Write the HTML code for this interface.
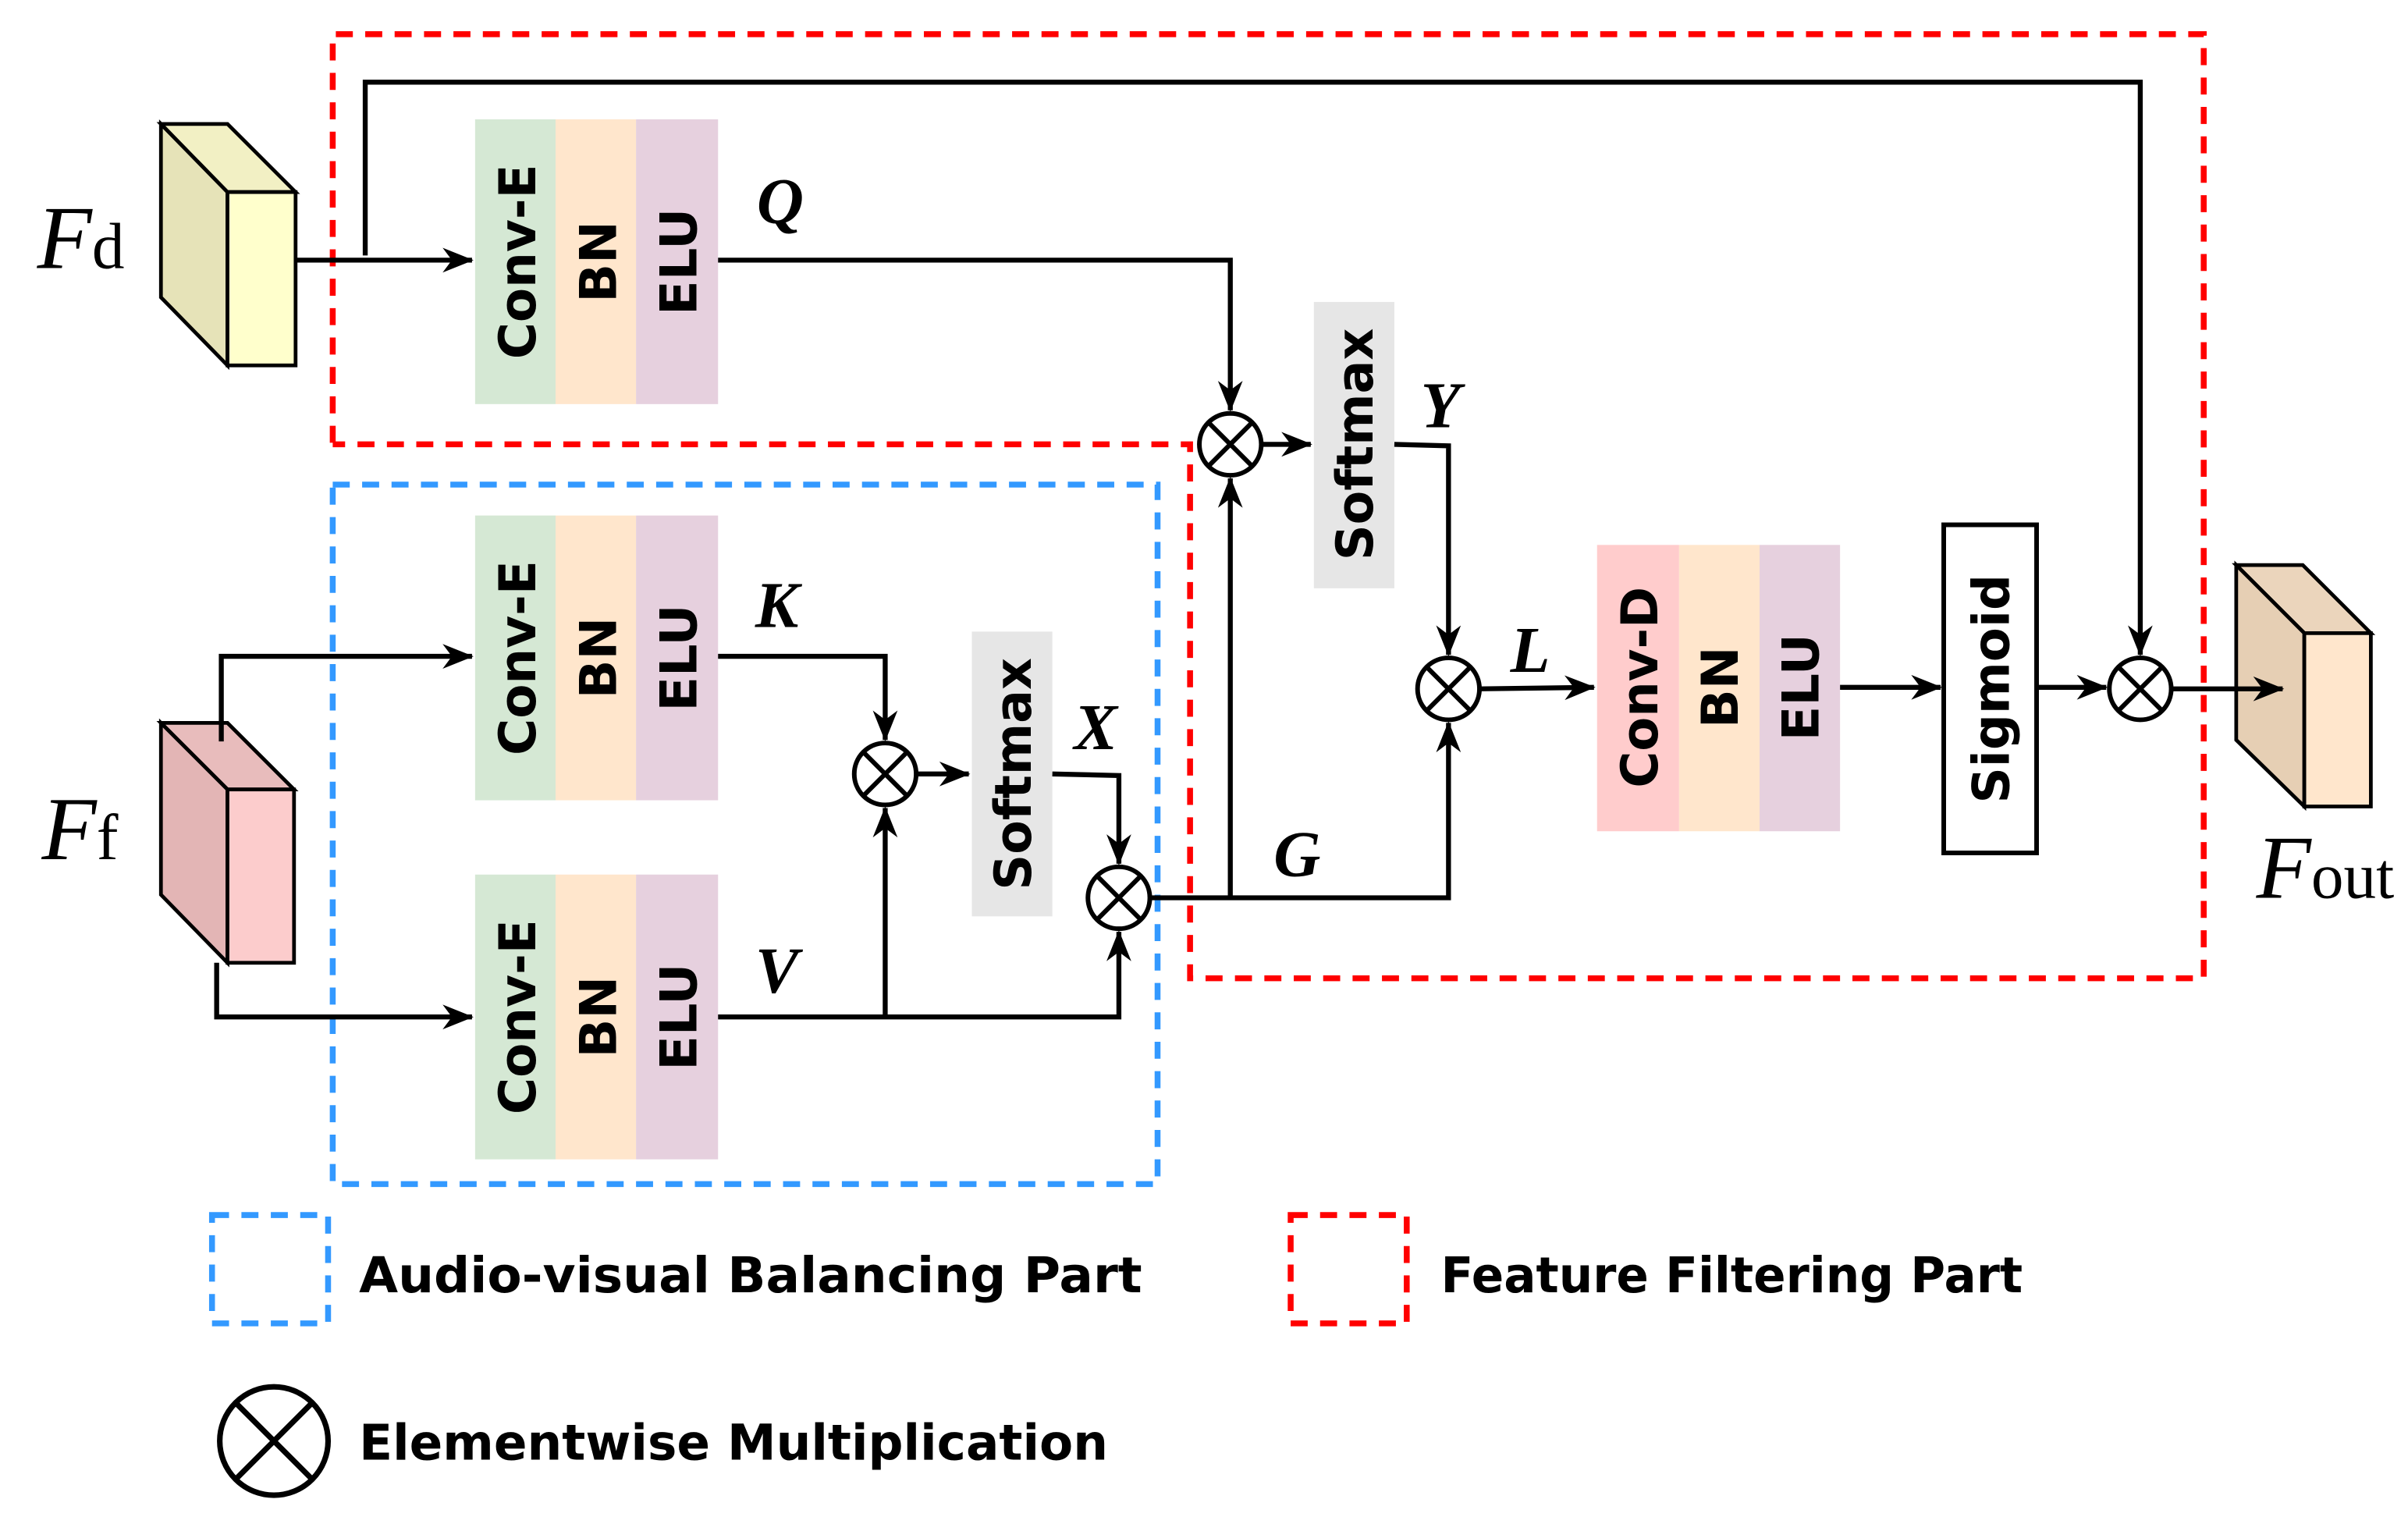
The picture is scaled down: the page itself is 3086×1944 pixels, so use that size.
<!DOCTYPE html>
<html><head><meta charset="utf-8"><style>html,body{margin:0;padding:0;background:#fff}svg{display:block}</style></head>
<body>
<svg width="3086" height="1944" viewBox="0 0 1556 980" xmlns="http://www.w3.org/2000/svg">
<defs>
<marker id="a" markerUnits="userSpaceOnUse" markerWidth="22" markerHeight="18" refX="19" refY="8" orient="auto">
<path d="M0,0 L20,8 L0,16 L6,8 z" fill="#000"/>
</marker>
</defs>
<g fill="none" stroke-width="3.8" stroke-dasharray="11,8">
<path d="M215,286 L215,22 L1424,22 L1424,632 L769,632 L769,287 L215,287" stroke="#ff0000"/>
<rect x="215" y="313" width="533" height="452" stroke="#3399ff"/>
<rect x="137" y="785" width="75" height="70" stroke="#3399ff"/>
<rect x="834" y="785" width="75" height="70" stroke="#ff0000"/>
</g>
<g stroke="#000" stroke-width="2.4">
<polygon points="104,80 147,124 147,236 104,192" fill="#e6e3b8"/>
<polygon points="104,80 147,80 191,124 147,124" fill="#f2f0c4"/>
<rect x="147" y="124" width="44" height="112" fill="#ffffcc"/>
<polygon points="104,467 147,467 190,510 147,510" fill="#e8bcbc"/>
<polygon points="104,467 147,510 147,622 104,578" fill="#e3b5b5"/>
<rect x="147" y="510" width="43" height="112" fill="#fccccc"/>
<polygon points="1445,365 1488,365 1532,409 1489,409" fill="#ebd5bc"/>
<polygon points="1445,365 1489,409 1489,521 1445,478" fill="#e6cfb4"/>
<rect x="1489" y="409" width="43" height="112" fill="#ffe6cc"/>
</g>
<g>
<rect x="307" y="77" width="52" height="184" fill="#d5e8d4"/><rect x="359" y="77" width="52" height="184" fill="#ffe6cc"/><rect x="411" y="77" width="53" height="184" fill="#e6d0de"/>
<rect x="307" y="333" width="52" height="184" fill="#d5e8d4"/><rect x="359" y="333" width="52" height="184" fill="#ffe6cc"/><rect x="411" y="333" width="53" height="184" fill="#e6d0de"/>
<rect x="307" y="565" width="52" height="184" fill="#d5e8d4"/><rect x="359" y="565" width="52" height="184" fill="#ffe6cc"/><rect x="411" y="565" width="53" height="184" fill="#e6d0de"/>
<rect x="1032" y="352" width="53" height="185" fill="#ffcccc"/><rect x="1085" y="352" width="52" height="185" fill="#ffe6cc"/><rect x="1137" y="352" width="52" height="185" fill="#e6d0de"/>
<rect x="628" y="408" width="52" height="184" fill="#e6e6e6"/>
<rect x="849" y="195" width="52" height="185" fill="#e6e6e6"/>
<rect x="1256" y="339" width="60" height="212" fill="#fff" stroke="#000" stroke-width="3"/>
</g>
<g font-family="'DejaVu Sans','Liberation Sans',sans-serif" font-weight="bold" font-size="33" fill="#000" text-anchor="middle">
<g transform="translate(346,169) rotate(-90)"><text x="0" y="0" textLength="126" lengthAdjust="spacingAndGlyphs">Conv-E</text></g>
<g transform="translate(398,169) rotate(-90)"><text x="0" y="0">BN</text></g>
<g transform="translate(450,169) rotate(-90)"><text x="0" y="0">ELU</text></g>
<g transform="translate(346,425) rotate(-90)"><text x="0" y="0" textLength="126" lengthAdjust="spacingAndGlyphs">Conv-E</text></g>
<g transform="translate(398,425) rotate(-90)"><text x="0" y="0">BN</text></g>
<g transform="translate(450,425) rotate(-90)"><text x="0" y="0">ELU</text></g>
<g transform="translate(346,657) rotate(-90)"><text x="0" y="0" textLength="126" lengthAdjust="spacingAndGlyphs">Conv-E</text></g>
<g transform="translate(398,657) rotate(-90)"><text x="0" y="0">BN</text></g>
<g transform="translate(450,657) rotate(-90)"><text x="0" y="0">ELU</text></g>
<g transform="translate(1071,444) rotate(-90)"><text x="0" y="0" textLength="130" lengthAdjust="spacingAndGlyphs">Conv-D</text></g>
<g transform="translate(1123,444) rotate(-90)"><text x="0" y="0">BN</text></g>
<g transform="translate(1175,444) rotate(-90)"><text x="0" y="0">ELU</text></g>
<g transform="translate(666,500) rotate(-90)"><text x="0" y="0" textLength="150" lengthAdjust="spacingAndGlyphs">Softmax</text></g>
<g transform="translate(887,287) rotate(-90)"><text x="0" y="0" textLength="150" lengthAdjust="spacingAndGlyphs">Softmax</text></g>
<g transform="translate(1298,445) rotate(-90)"><text x="0" y="0" textLength="148" lengthAdjust="spacingAndGlyphs">Sigmoid</text></g>
</g>
<g font-family="'DejaVu Sans','Liberation Sans',sans-serif" font-weight="bold" font-size="32" fill="#000">
<text x="232" y="835" textLength="506" lengthAdjust="spacingAndGlyphs">Audio-visual Balancing Part</text>
<text x="931" y="835" textLength="376" lengthAdjust="spacingAndGlyphs">Feature Filtering Part</text>
<text x="232" y="943" textLength="484" lengthAdjust="spacingAndGlyphs">Elementwise Multiplication</text>
</g>
<g font-family="'Liberation Serif',serif" font-style="italic" font-weight="bold" font-size="42" fill="#000">
<text x="489" y="144">Q</text>
<text x="488" y="405">K</text>
<text x="488" y="641">V</text>
<text x="694" y="484">X</text>
<text x="918" y="276">Y</text>
<text x="976" y="434">L</text>
<text x="823" y="566">G</text>
<g font-weight="normal">
<text x="24" y="173" font-size="58">F<tspan font-style="normal" font-size="42">d</tspan></text>
<text x="27" y="555" font-size="58">F<tspan font-style="normal" font-size="42">f</tspan></text>
<text x="1458" y="580" font-size="58">F<tspan font-style="normal" font-size="42">out</tspan></text>
</g>
</g>
<g fill="none" stroke="#000" stroke-width="3.2">
<path d="M191,168 L305,168" marker-end="url(#a)"/>
<path d="M236,165 L236,53 L1383,53 L1383,423" marker-end="url(#a)"/>
<path d="M464,168 L795,168 L795,265" marker-end="url(#a)"/>
<path d="M815,287 L847,287" marker-end="url(#a)"/>
<path d="M901,287 L936,288 L936,423" marker-end="url(#a)"/>
<path d="M743,580 L936,580 L936,467" marker-end="url(#a)"/>
<path d="M795,580 L795,309" marker-end="url(#a)"/>
<path d="M956,445 L1030,444" marker-end="url(#a)"/>
<path d="M1189,444 L1254,444" marker-end="url(#a)"/>
<path d="M1316,444 L1361,444" marker-end="url(#a)"/>
<path d="M1403,445 L1475,445" marker-end="url(#a)"/>
<path d="M143,479 L143,424 L305,424" marker-end="url(#a)"/>
<path d="M464,424 L572,424 L572,478" marker-end="url(#a)"/>
<path d="M592,500 L626,500" marker-end="url(#a)"/>
<path d="M680,500 L723,501 L723,558" marker-end="url(#a)"/>
<path d="M140,622 L140,657 L305,657" marker-end="url(#a)"/>
<path d="M464,657 L723,657 L723,602" marker-end="url(#a)"/>
<path d="M572,657 L572,522" marker-end="url(#a)"/>
</g>
<g fill="#fff" stroke="#000" stroke-width="3">
<g transform="translate(795,287)"><circle r="20"/><path d="M-14,-14 L14,14 M14,-14 L-14,14"/></g>
<g transform="translate(572,500)"><circle r="20"/><path d="M-14,-14 L14,14 M14,-14 L-14,14"/></g>
<g transform="translate(723,580)"><circle r="20"/><path d="M-14,-14 L14,14 M14,-14 L-14,14"/></g>
<g transform="translate(936,445)"><circle r="20"/><path d="M-14,-14 L14,14 M14,-14 L-14,14"/></g>
<g transform="translate(1383,445)"><circle r="20"/><path d="M-14,-14 L14,14 M14,-14 L-14,14"/></g>
<g transform="translate(177,931)" stroke-width="3.6"><circle r="35"/><path d="M-25,-25 L25,25 M25,-25 L-25,25"/></g>
</g>
</svg>
</body></html>
